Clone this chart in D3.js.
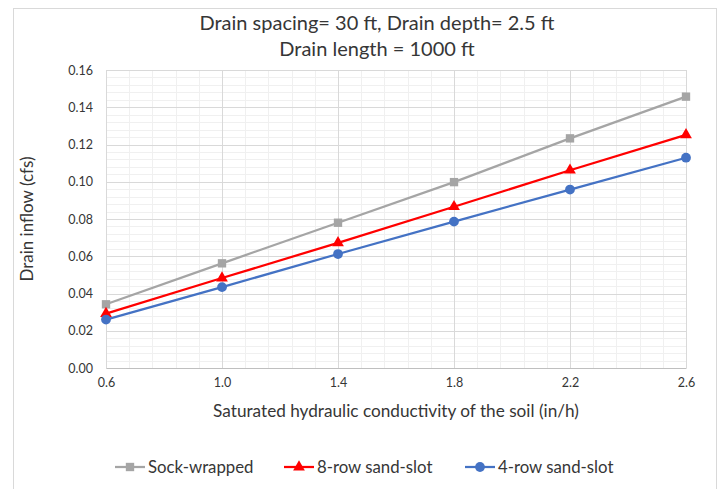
<!DOCTYPE html>
<html>
<head>
<meta charset="utf-8">
<script src="https://cdn.jsdelivr.net/npm/d3@7"></script>
<style>
  body { margin: 0; background: #fff; }
  svg text { font-family: Lato, "Open Sans", sans-serif; fill: #363636; }
</style>
</head>
<body>
<div id="chart"></div>
<script>
// chart data
var conductivity = [0.6, 1.0, 1.4, 1.8, 2.2, 2.6];
var sockWrapped = [0.0342, 0.0562, 0.0780, 0.0998, 0.1233, 0.1457];
var eightRow = [0.0292, 0.0483, 0.0672, 0.0866, 0.1062, 0.1252];
var fourRow = [0.0260, 0.0434, 0.0612, 0.0786, 0.0958, 0.1129];
var seriesNames = ["Sock-wrapped", "8-row sand-slot", "4-row sand-slot"];
var xTicks = [0.6, 1.0, 1.4, 1.8, 2.2, 2.6];
var yTicks = [0, 0.02, 0.04, 0.06, 0.08, 0.10, 0.12, 0.14, 0.16];

var W = 719, H = 489;
var margin = { left: 106, right: 33, top: 70, bottom: 121 };
var width = W - margin.left - margin.right;
var height = H - margin.top - margin.bottom;

var svg = d3.select("#chart").append("svg")
  .attr("width", W)
  .attr("height", H);

// outer chart border
svg.append("rect")
  .attr("x", 13.5).attr("y", 8.5)
  .attr("width", 703).attr("height", 490)
  .attr("fill", "none")
  .attr("stroke", "#d9d9d9");

var g = svg.append("g")
  .attr("transform", "translate(" + margin.left + "," + margin.top + ")");

var x = d3.scaleLinear().domain([0.6, 2.6]).range([0, width]);
var y = d3.scaleLinear().domain([0, 0.16]).range([height, 0]);

// minor grid
var xMinor = d3.range(0, 26).map(i => 0.6 + i * 0.08).filter(v => v <= 2.6001);
var yMinor = d3.range(0, 41).map(i => i * 0.004);

g.append("g").selectAll("line")
  .data(xMinor).enter().append("line")
  .attr("x1", d => Math.round(x(d)) + 0.5).attr("x2", d => Math.round(x(d)) + 0.5)
  .attr("y1", 0).attr("y2", height)
  .attr("stroke", "#f0f0f0");

g.append("g").selectAll("line")
  .data(yMinor).enter().append("line")
  .attr("y1", d => Math.round(y(d)) + 0.5).attr("y2", d => Math.round(y(d)) + 0.5)
  .attr("x1", 0).attr("x2", width)
  .attr("stroke", "#f0f0f0");

// major grid
g.append("g").selectAll("line")
  .data(xTicks).enter().append("line")
  .attr("x1", d => Math.round(x(d)) + 0.5).attr("x2", d => Math.round(x(d)) + 0.5)
  .attr("y1", 0).attr("y2", height)
  .attr("stroke", "#d9d9d9");

g.append("g").selectAll("line")
  .data(yTicks).enter().append("line")
  .attr("y1", d => Math.round(y(d)) + 0.5).attr("y2", d => Math.round(y(d)) + 0.5)
  .attr("x1", 0).attr("x2", width)
  .attr("stroke", "#d9d9d9");

// axes
var xAxis = d3.axisBottom(x).tickValues(xTicks).tickFormat(d3.format(".1f")).tickSize(0).tickPadding(10);
var yAxis = d3.axisLeft(y).tickValues(yTicks).tickFormat(d3.format(".2f")).tickSize(0).tickPadding(13);

g.append("g")
  .attr("transform", "translate(0," + height + ")")
  .call(xAxis)
  .call(s => s.select(".domain").attr("stroke", "#bfbfbf"))
  .selectAll("text").attr("font-size", "12.5px").attr("fill", "#363636");

g.append("g")
  .call(yAxis)
  .call(s => s.select(".domain").attr("stroke", "#d9d9d9"))
  .selectAll("text").attr("font-size", "12.5px").attr("fill", "#363636");

// titles
svg.append("text")
  .attr("x", 377).attr("y", 30)
  .attr("text-anchor", "middle")
  .attr("font-size", "20px")
  .text("Drain spacing= 30 ft, Drain depth= 2.5 ft");

svg.append("text")
  .attr("x", 377).attr("y", 56)
  .attr("text-anchor", "middle")
  .attr("font-size", "20px")
  .text("Drain length = 1000 ft");

svg.append("text")
  .attr("x", margin.left + width / 2).attr("y", 417)
  .attr("text-anchor", "middle")
  .attr("font-size", "17.2px")
  .text("Saturated hydraulic conductivity of the soil (in/h)");

svg.append("text")
  .attr("transform", "translate(33," + (margin.top + height / 2) + ") rotate(-90)")
  .attr("text-anchor", "middle")
  .attr("font-size", "17px")
  .text("Drain inflow (cfs)");

// series
var series = [
  { name: seriesNames[0], values: sockWrapped, color: "#a5a5a5", marker: d3.symbolSquare, size: 70 },
  { name: seriesNames[1], values: eightRow, color: "#ff0000", marker: d3.symbolTriangle, size: 60 },
  { name: seriesNames[2], values: fourRow, color: "#4472c4", marker: d3.symbolCircle, size: 75 }
];

var line = d3.line()
  .x((d, i) => x(conductivity[i]))
  .y(d => y(d));

series.forEach(function (s) {
  g.append("path")
    .attr("d", line(s.values))
    .attr("fill", "none")
    .attr("stroke", s.color)
    .attr("stroke-width", 2.25);

  g.append("g").selectAll("path")
    .data(s.values).enter().append("path")
    .attr("transform", (d, i) => "translate(" + x(conductivity[i]) + "," + y(d) + ")")
    .attr("d", d3.symbol().type(s.marker).size(s.size))
    .attr("fill", s.color);
});

// legend
var legendX = [115, 284, 465];
var legend = svg.append("g").attr("transform", "translate(0,467)");
series.forEach(function (s, i) {
  var lg = legend.append("g").attr("transform", "translate(" + legendX[i] + ",0)");
  lg.append("line")
    .attr("x1", 0).attr("x2", 30).attr("y1", 0).attr("y2", 0)
    .attr("stroke", s.color).attr("stroke-width", 2.25);
  lg.append("path")
    .attr("transform", "translate(15,0)")
    .attr("d", d3.symbol().type(s.marker).size(s.size))
    .attr("fill", s.color);
  lg.append("text")
    .attr("x", 33).attr("y", 6)
    .attr("font-size", "16.8px")
    .text(s.name);
});
</script>
</body>
</html>
